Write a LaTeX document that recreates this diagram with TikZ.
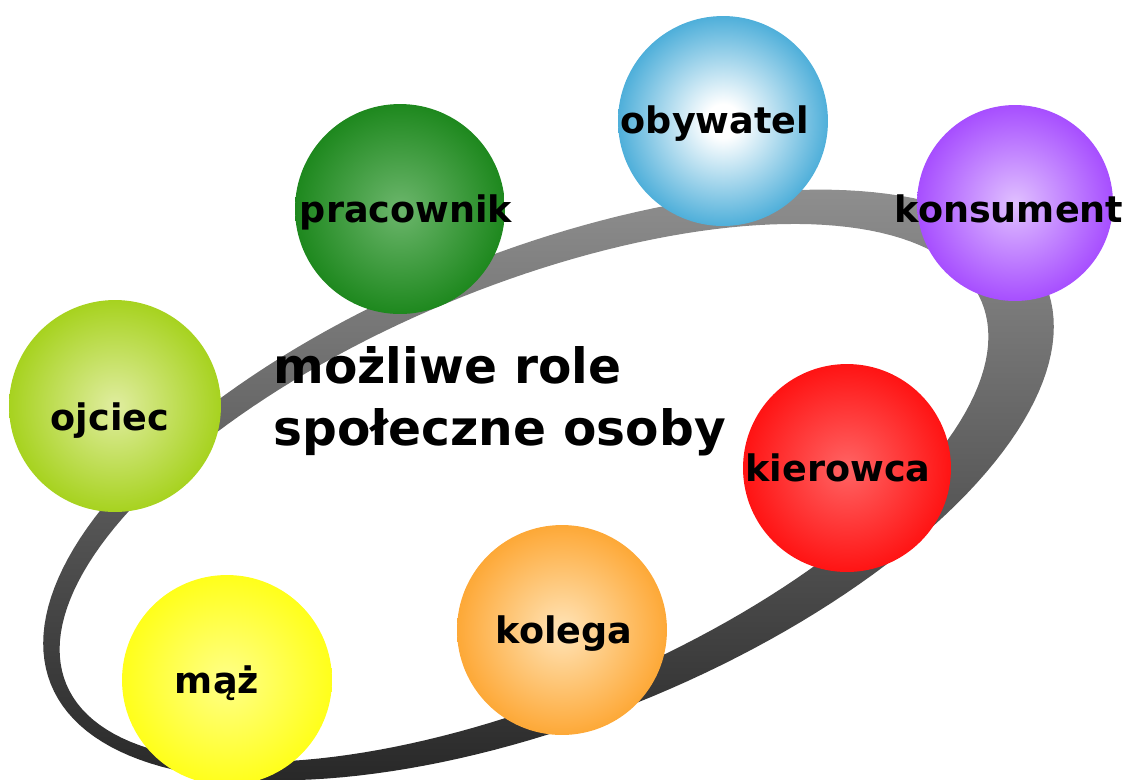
\documentclass[tikz,border=0pt]{standalone}
\usepackage{fontspec}
\setmainfont{DejaVu Sans}
\definecolor{obyIn}{HTML}{FFFFFF}\definecolor{obyOut}{HTML}{1C98CF}
\definecolor{konIn}{HTML}{E0C0FF}\definecolor{konOut}{HTML}{9933FF}
\definecolor{praIn}{HTML}{6CB66C}\definecolor{praOut}{HTML}{0B7D0B}
\definecolor{ojcIn}{HTML}{E0EDA0}\definecolor{ojcOut}{HTML}{99CC00}
\definecolor{kieIn}{HTML}{FF6464}\definecolor{kieOut}{HTML}{FF0000}
\definecolor{kolIn}{HTML}{FFE4B8}\definecolor{kolOut}{HTML}{FD9A18}
\definecolor{mazIn}{HTML}{FFFF88}\definecolor{mazOut}{HTML}{FFFF00}
\definecolor{ringTop}{HTML}{8E8E8E}
\definecolor{ringMid}{HTML}{363636}
\definecolor{ringBot}{HTML}{282828}
\pgfdeclareradialshading{shOby}{\pgfpoint{0bp}{0bp}}{color(0bp)=(obyIn); color(4bp)=(obyIn); color(31bp)=(obyOut); color(50bp)=(obyOut)}
\pgfdeclareradialshading{shKon}{\pgfpoint{0bp}{0bp}}{color(0bp)=(konIn); color(31bp)=(konOut); color(50bp)=(konOut)}
\pgfdeclareradialshading{shPra}{\pgfpoint{0bp}{0bp}}{color(0bp)=(praIn); color(31bp)=(praOut); color(50bp)=(praOut)}
\pgfdeclareradialshading{shOjc}{\pgfpoint{0bp}{0bp}}{color(0bp)=(ojcIn); color(31bp)=(ojcOut); color(50bp)=(ojcOut)}
\pgfdeclareradialshading{shKie}{\pgfpoint{0bp}{0bp}}{color(0bp)=(kieIn); color(31bp)=(kieOut); color(50bp)=(kieOut)}
\pgfdeclareradialshading{shKol}{\pgfpoint{0bp}{0bp}}{color(0bp)=(kolIn); color(31bp)=(kolOut); color(50bp)=(kolOut)}
\pgfdeclareradialshading{shMaz}{\pgfpoint{0bp}{0bp}}{color(0bp)=(mazIn); color(31bp)=(mazOut); color(50bp)=(mazOut)}
\tikzset{
  sphere/.style={circle, inner sep=0pt, shade},
  lbl/.style={anchor=base, inner sep=0pt, font=\fontsize{20.8}{24}\selectfont\bfseries},
  ttl/.style={anchor=base west, inner sep=0pt, font=\fontsize{27.7}{34}\selectfont\bfseries}
}
\begin{document}
\begin{tikzpicture}[x=0.02cm, y=-0.02cm]
\useasboundingbox (0,0) rectangle (1130,779);
\clip (0,0) rectangle (1130,779);
% ring: outer and inner tilted ellipses
\shade[top color=ringTop, middle color=ringMid, bottom color=ringBot, even odd rule]
  plot[domain=0:360, samples=181, variable=\t]
    ({548.5+497.7*cos(\t)+87.3*sin(\t)}, {485-199.1*cos(\t)+218.2*sin(\t)}) -- cycle
  plot[domain=0:360, samples=181, variable=\t]
    ({524+457.6*cos(\t)+79.1*sin(\t)}, {493-191.4*cos(\t)+189.1*sin(\t)}) -- cycle;
% spheres
\node[sphere, minimum size=4.2cm, shading=shOby] (obywatel) at (723,121) {};
\node[sphere, minimum size=3.92cm, shading=shKon] (konsument) at (1015,203) {};
\node[sphere, minimum size=4.2cm, shading=shPra] (pracownik) at (400,209) {};
\node[sphere, minimum size=4.24cm, shading=shOjc] (ojciec) at (115,406) {};
\node[sphere, minimum size=4.16cm, shading=shKie] (kierowca) at (847,468) {};
\node[sphere, minimum size=4.2cm, shading=shKol] (kolega) at (562,630) {};
\node[sphere, minimum size=4.2cm, shading=shMaz] (maz) at (227,680) {};
% labels
\node[lbl] (tOby) at (715,133) {obywatel};
\node[lbl] (tKon) at (1009,222) {konsument};
\node[lbl] (tPra) at (406,222) {pracownik};
\node[lbl] (tOjc) at (110,430) {ojciec};
\node[lbl] (tKie) at (838,481) {kierowca};
\node[lbl] (tKol) at (564,643) {kolega};
\node[lbl] (tMaz) at (217,693) {mąż};
% title
\node[ttl] (title1) at (273,383) {możliwe role};
\node[ttl] (title2) at (273,445) {społeczne osoby};
\end{tikzpicture}
\end{document}
